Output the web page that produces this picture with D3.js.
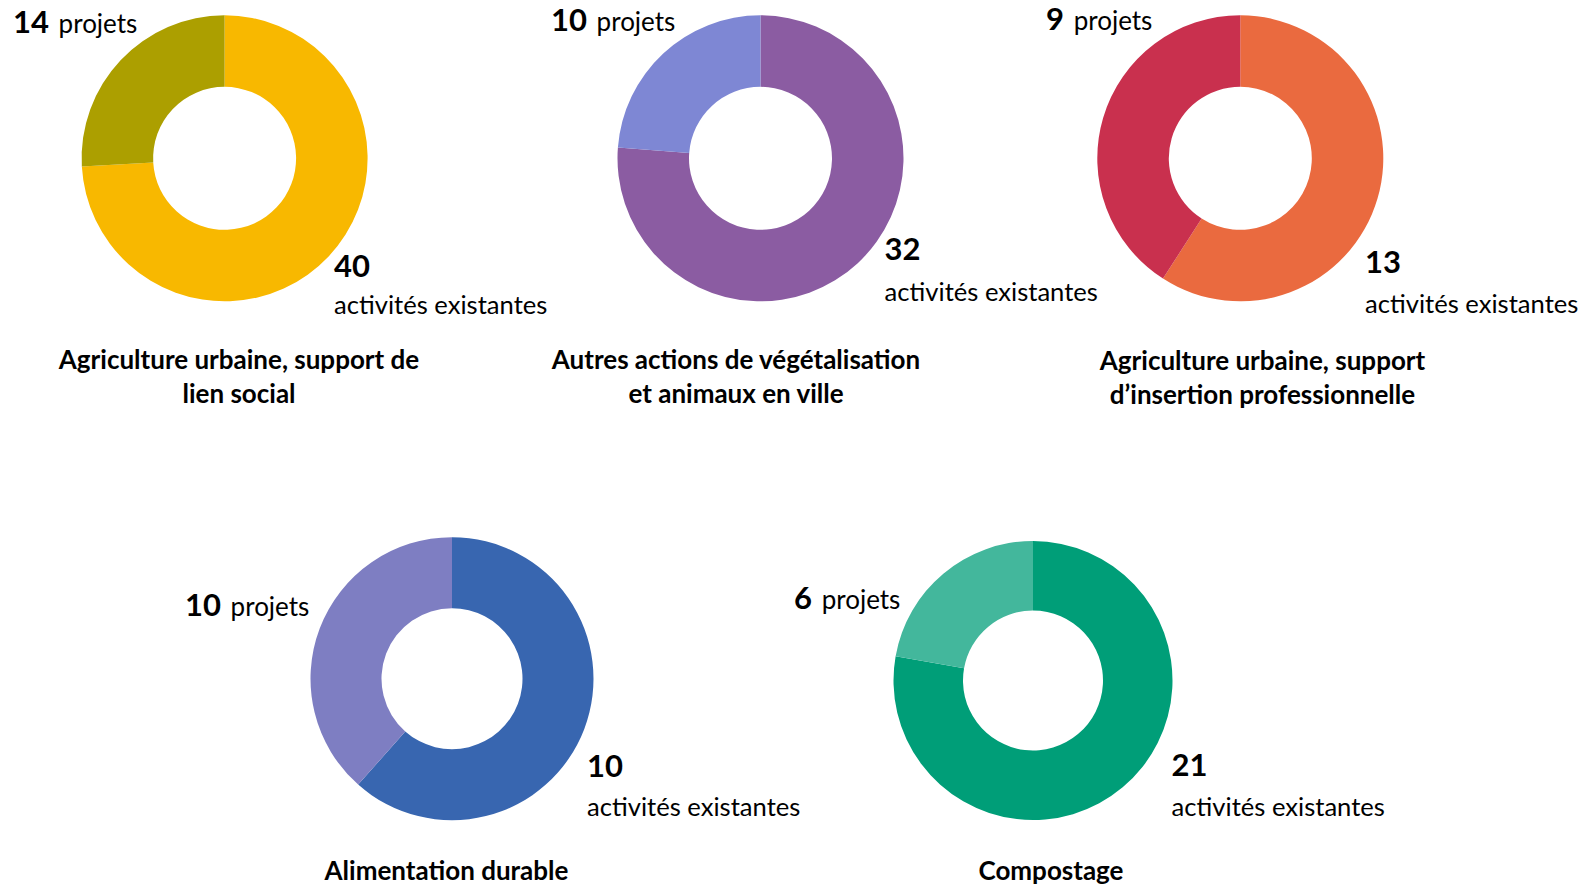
<!DOCTYPE html>
<html>
<head>
<meta charset="utf-8">
<script src="https://cdn.jsdelivr.net/npm/d3@7"></script>
<style>
    html, body { margin: 0; padding: 0; background: #fff; }
    svg { display: block; font-family: Lato, 'Open Sans', sans-serif; }
</style>
</head>
<body>
<div id="chart"></div>
<script>
const titres = [
    ['Agriculture urbaine, support de', 'lien social'],
    ['Autres actions de végétalisation', 'et animaux en ville'],
    ['Agriculture urbaine, support', 'd’insertion professionnelle'],
    ['Alimentation durable'],
    ['Compostage']
]
const projets = [14, 10, 9, 10, 6]
const activites = [40, 32, 13, 10, 21]
// the "Alimentation durable" ring is not split 10 / 10 in the source, this value is read off the arc
const arcActivites = [40, 32, 13, 16, 21]
const libelleProjets = 'projets'
const libelleActivites = 'activités existantes'

const couleursActivites = ['#f8b800', '#8b5ca2', '#ea6a3f', '#3866b0', '#009e78']
const couleursProjets = ['#ac9f00', '#7e87d4', '#c9304e', '#7e7ec2', '#43b79c']

// where each ring and its labels sit
const layout = [
    { cx: 224.6, cy: 158.3, R: 143, r: 71.5, px: 13, py: 33, ax: 334, ay: 277, ay2: 314, tx: 239, ty: 369 },
    { cx: 760.5, cy: 158.3, R: 143, r: 71.5, px: 551, py: 31, ax: 884.6, ay: 260, ay2: 301, tx: 736, ty: 369 },
    { cx: 1240.3, cy: 158.3, R: 143, r: 71.5, px: 1046, py: 30, ax: 1365, ay: 273, ay2: 313, tx: 1262.5, ty: 370 },
    { cx: 452, cy: 678.7, R: 141.5, r: 70.5, px: 185, py: 616, ax: 587, ay: 777, ay2: 816, tx: 446.5, ty: 880 },
    { cx: 1033, cy: 680.5, R: 139.5, r: 70, px: 794, py: 609, ax: 1171.6, ay: 776, ay2: 816, tx: 1051, ty: 880 }
]

const width = 1580
const height = 885

const svg = d3.select('#chart')
    .append('svg')
        .attr('width', width)
        .attr('height', height)

const pie = d3.pie()
    .sort(null)
    .value(d => d.value)

layout.forEach((pos, i) => {
    const parts = [
        { key: 'activites', value: arcActivites[i], color: couleursActivites[i] },
        { key: 'projets', value: projets[i], color: couleursProjets[i] }
    ]

    const arc = d3.arc()
        .innerRadius(pos.r)
        .outerRadius(pos.R)

    const g = svg.append('g')
        .attr('transform', `translate(${pos.cx}, ${pos.cy})`)

    g.selectAll('path')
        .data(pie(parts))
        .enter()
        .append('path')
            .attr('d', arc)
            .attr('fill', d => d.data.color)

    const lp = svg.append('text')
        .attr('x', pos.px)
        .attr('y', pos.py)
        .attr('fill', '#000')
    lp.append('tspan')
        .attr('font-weight', 700)
        .attr('font-size', 31)
        .text(projets[i])
    lp.append('tspan')
        .attr('dx', 3)
        .attr('font-size', 26)
        .text(' ' + libelleProjets)

    svg.append('text')
        .attr('x', pos.ax)
        .attr('y', pos.ay)
        .attr('font-weight', 700)
        .attr('font-size', 31)
        .attr('fill', '#000')
        .text(activites[i])

    svg.append('text')
        .attr('x', pos.ax)
        .attr('y', pos.ay2)
        .attr('font-size', 25.6)
        .attr('fill', '#000')
        .text(libelleActivites)

    svg.selectAll(null)
        .data(titres[i])
        .enter()
        .append('text')
            .attr('x', pos.tx)
            .attr('y', (d, j) => pos.ty + j * 33.5)
            .attr('text-anchor', 'middle')
            .attr('font-weight', 700)
            .attr('font-size', 26)
            .attr('fill', '#000')
            .text(d => d)
})
</script>
</body>
</html>
